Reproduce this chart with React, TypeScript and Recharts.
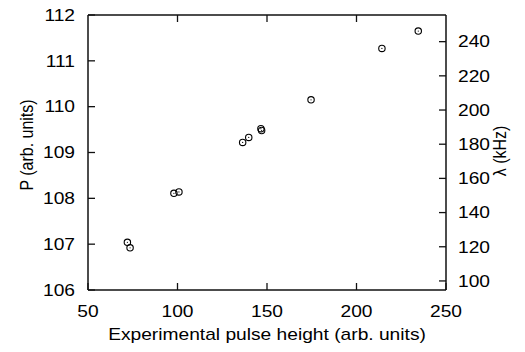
import { ScatterChart, Scatter, XAxis, YAxis } from "recharts";

const pulseHeight = [72.0, 73.5, 98.0, 100.8, 136.4, 139.8, 146.6, 147.0, 174.6, 214.2, 234.5];
const power = [107.04, 106.92, 108.11, 108.14, 109.22, 109.33, 109.52, 109.48, 110.15, 111.27, 111.65];

const xTicks = [50, 100, 150, 200, 250];
const topTicks = [100, 150, 200];
const pTicks = [106, 107, 108, 109, 110, 111, 112];
const lambdaTicks = [100, 120, 140, 160, 180, 200, 220, 240];

const data = pulseHeight.map((x, i) => ({ x, p: power[i] }));

const FONT = "'Liberation Sans', Arial, Helvetica, sans-serif";
// the reference is stretched sideways a little
const SX = 1.2;
const INK = "#111";

function Txt({ x, y, anchor, rotate, children }: any) {
    const t = `translate(${x},${y}) scale(${SX},1)` + (rotate ? ` rotate(${rotate})` : "");
    return (
        <text transform={t} dy={rotate ? undefined : "0.36em"} textAnchor={anchor} fontSize={16} fontFamily={FONT} fill="#000">
            {children}
        </text>
    );
}

function BottomTick(props: any) {
    const { x, y, payload } = props;
    return (
        <g>
            <line x1={x} y1={y} x2={x} y2={y - 7} stroke={INK} strokeWidth={1.3} />
            <Txt x={x} y={y + 21} anchor="middle">{payload.value}</Txt>
        </g>
    );
}

function LeftTick(props: any) {
    const { x, y, payload } = props;
    return <Txt x={x - 13} y={y} anchor="end">{payload.value}</Txt>;
}

function RightTick(props: any) {
    const { x, y, payload } = props;
    return <Txt x={x + 12} y={y} anchor="start">{payload.value}</Txt>;
}

function NoTick() {
    return <g />;
}

function Dot(props: any) {
    const { cx, cy } = props;
    return (
        <g>
            <circle cx={cx} cy={cy} r={3.2} fill="none" stroke="#000" strokeWidth={1.1} />
            <circle cx={cx} cy={cy} r={0.6} fill="#000" />
        </g>
    );
}

const axisLine = { stroke: INK, strokeWidth: 1.5 };
const tickLine = { stroke: INK, strokeWidth: 1.3 };

export default function App() {
    return (
        <div style={{ position: "absolute", left: 0, top: 0 }}>
            <ScatterChart width={525} height={352} margin={{ top: 0, right: 0, left: 0, bottom: 0 }}>
                <XAxis
                    xAxisId="bottom"
                    type="number"
                    dataKey="x"
                    domain={[50, 250]}
                    ticks={xTicks}
                    height={62}
                    tickSize={0}
                    tickMargin={0}
                    tickLine={false}
                    axisLine={axisLine}
                    tick={<BottomTick />}
                    label={({ viewBox }: any) => (
                        <Txt x={viewBox.x + viewBox.width / 2} y={viewBox.y + 44} anchor="middle">
                            Experimental pulse height (arb. units)
                        </Txt>
                    )}
                />
                <XAxis
                    xAxisId="top"
                    orientation="top"
                    type="number"
                    dataKey="x"
                    domain={[50, 250]}
                    ticks={topTicks}
                    height={15}
                    tickSize={-7}
                    tickMargin={7}
                    tickLine={tickLine}
                    axisLine={axisLine}
                    tick={<NoTick />}
                />
                <YAxis
                    yAxisId="left"
                    type="number"
                    dataKey="p"
                    domain={[106, 112]}
                    ticks={pTicks}
                    width={88}
                    tickSize={-7}
                    tickMargin={7}
                    tickLine={tickLine}
                    axisLine={axisLine}
                    tick={<LeftTick />}
                    label={() => (
                        <Txt x={33} y={145} anchor="middle" rotate={-90}>
                            P (arb. units)
                        </Txt>
                    )}
                />
                <YAxis
                    yAxisId="right"
                    orientation="right"
                    type="number"
                    domain={[94.7, 255.6]}
                    ticks={lambdaTicks}
                    width={79}
                    tickSize={-7}
                    tickMargin={7}
                    tickLine={tickLine}
                    allowDataOverflow
                    axisLine={axisLine}
                    tick={<RightTick />}
                    label={() => (
                        <Txt x={506} y={151} anchor="middle" rotate={-90}>
                            λ (kHz)
                        </Txt>
                    )}
                />
                <Scatter data={data} xAxisId="bottom" yAxisId="left" shape={<Dot />} isAnimationActive={false} />
                <Scatter data={data} xAxisId="top" yAxisId="left" shape={<NoTick />} isAnimationActive={false} />
            </ScatterChart>
        </div>
    );
}
